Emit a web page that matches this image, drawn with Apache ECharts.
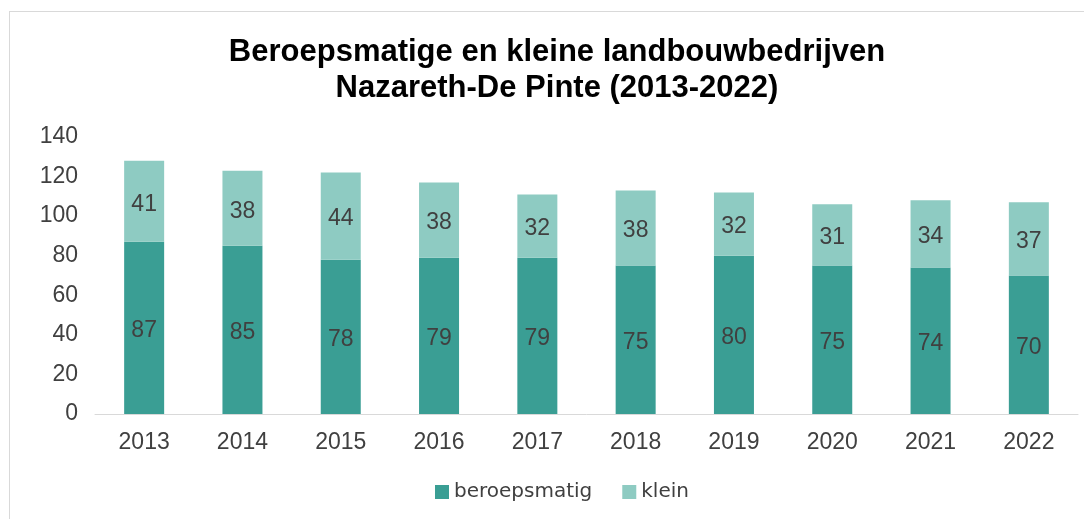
<!DOCTYPE html>
<html>
<head>
<meta charset="utf-8">
<script src="https://cdn.jsdelivr.net/npm/echarts@6/dist/echarts.min.js"></script>
<style>
  html, body { margin: 0; padding: 0; background: #fff; }
  #frame { position: absolute; left: 9px; top: 11px; width: 1090px; height: 520px; border: 1px solid #d9d9d9; }
  #chart { width: 1084px; height: 519px; position: absolute; left: 0; top: 0; }
</style>
</head>
<body>
<div id="frame"></div>
<div id="chart"></div>
<script>
var years = ['2013', '2014', '2015', '2016', '2017', '2018', '2019', '2020', '2021', '2022'];
var beroepsmatig = [87, 85, 78, 79, 79, 75, 80, 75, 74, 70];
var klein = [41, 38, 44, 38, 32, 38, 32, 31, 34, 37];
var yTicks = [0, 20, 40, 60, 80, 100, 120, 140];

var myChart = echarts.init(document.getElementById('chart'));

var labelStyle = {
  show: true,
  position: 'inside',
  offset: [0, 3],
  color: '#404040',
  fontSize: 23,
  fontFamily: 'Liberation Sans, Arial'
};

var option = {
  animation: false,
  title: {
    text: 'Beroepsmatige en kleine landbouwbedrijven\nNazareth-De Pinte (2013-2022)',
    left: 552,
    textAlign: 'center',
    top: 29,
    textStyle: {
      fontFamily: 'Liberation Sans, Arial',
      fontWeight: 'bold',
      fontSize: 31,
      lineHeight: 36,
      color: '#000'
    }
  },
  legend: {
    bottom: 12,
    left: 430,
    itemWidth: 14,
    itemHeight: 14,
    itemGap: 30,
    icon: 'rect',
    textStyle: { fontFamily: 'DejaVu Sans', fontSize: 20, color: '#404040' },
    data: ['beroepsmatig', 'klein']
  },
  grid: { left: 95, right: 6, top: 137, bottom: 105 },
  xAxis: {
    type: 'category',
    data: years,
    axisTick: { show: false },
    axisLine: { lineStyle: { color: '#d9d9d9', width: 1 } },
    axisLabel: { color: '#404040', fontSize: 23, fontFamily: 'Liberation Sans, Arial', margin: 17 }
  },
  yAxis: {
    type: 'value',
    min: yTicks[0],
    max: yTicks[yTicks.length - 1],
    interval: 20,
    splitLine: { show: false },
    axisLine: { show: false },
    axisTick: { show: false },
    axisLabel: { color: '#404040', fontSize: 23, fontFamily: 'Liberation Sans, Arial', margin: 17 }
  },
  series: [
    {
      name: 'beroepsmatig',
      type: 'bar',
      stack: 'totaal',
      barWidth: 40,
      data: beroepsmatig,
      itemStyle: { color: '#3a9e94' },
      label: labelStyle
    },
    {
      name: 'klein',
      type: 'bar',
      stack: 'totaal',
      barWidth: 40,
      data: klein,
      itemStyle: { color: '#8ecbc2' },
      label: labelStyle
    }
  ]
};

myChart.setOption(option);
</script>
</body>
</html>
